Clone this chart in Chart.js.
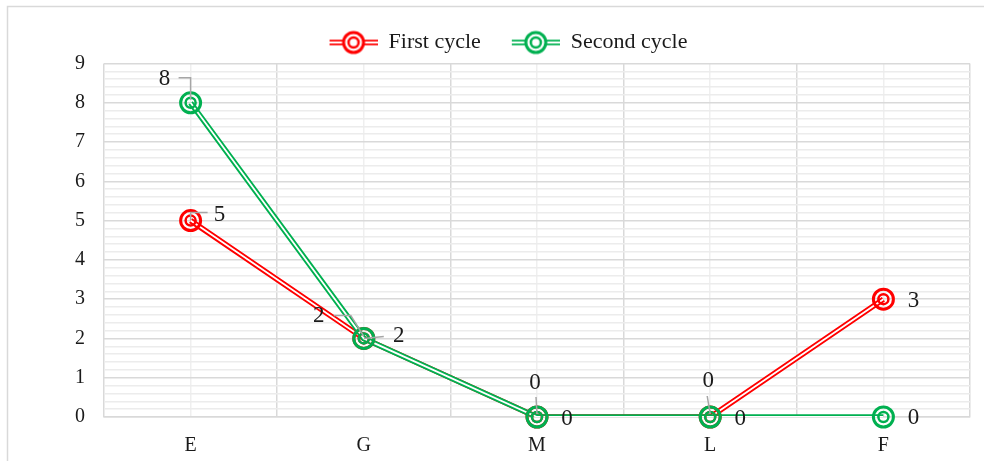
<!DOCTYPE html>
<html>
<head>
<meta charset="utf-8">
<script src="https://cdn.jsdelivr.net/npm/chart.js@4/dist/chart.umd.min.js"></script>
<style>
  html, body { margin: 0; padding: 0; background: #ffffff; }
  #wrap { position: relative; width: 984px; height: 461px; }
</style>
</head>
<body>
<div id="wrap"><canvas id="c" width="984" height="461"></canvas></div>
<script>
// ---- data ----
const categories = ['E', 'G', 'M', 'L', 'F'];
const firstCycle = [5, 2, 0, 0, 3];
const secondCycle = [8, 2, 0, 0, 0];
const seriesNames = ['First cycle', 'Second cycle'];
const yMin = 0;
const yMax = 9;

// ---- styles ----
const RED = '#FF0000';
const GREEN = '#00B050';
const SERIF = "'Liberation Serif', 'Times New Roman', serif";
const TEXT = '#1a1a1a';

// data-label placement (offsets relative to each point, style only)
const labelPlacement = [
  [ {dx: 29, dy: -6, leader: [[0, 0], [0, -8], [17, -8]]},
    {dx: -45, dy: -22, leader: [[-30, -23], [-13, -23], [0, -2]]},
    {dx: -2, dy: -34, leader: [[0, -3], [-1, -20]]},
    {dx: -2, dy: -36, leader: [[0, -3], [-3, -21]]},
    {dx: 30, dy: 2} ],
  [ {dx: -26, dy: -24, leader: [[0, -3], [0, -25], [-12, -25]]},
    {dx: 35, dy: -2, leader: [[0, 0], [20, -2]]},
    {dx: 30, dy: 2},
    {dx: 30, dy: 2},
    {dx: 30, dy: 1} ]
];

function drawMarker(ctx, x, y, color, fillWhite) {
  ctx.save();
  if (fillWhite) {
    ctx.fillStyle = '#ffffff';
    ctx.beginPath(); ctx.arc(x, y, 10.5, 0, Math.PI * 2); ctx.fill();
  }
  ctx.strokeStyle = color;
  ctx.lineWidth = 3;
  ctx.beginPath(); ctx.arc(x, y, 10, 0, Math.PI * 2); ctx.stroke();
  ctx.lineWidth = 2.5;
  ctx.beginPath(); ctx.arc(x, y, 5, 0, Math.PI * 2); ctx.stroke();
  ctx.restore();
}

function legendImage(color) {
  const cv = document.createElement('canvas');
  cv.width = 70; cv.height = 26;
  const ctx = cv.getContext('2d');
  ctx.strokeStyle = color; ctx.lineWidth = 5.5;
  ctx.beginPath(); ctx.moveTo(22, 13); ctx.lineTo(70, 13); ctx.stroke();
  ctx.strokeStyle = '#ffffff'; ctx.lineWidth = 1.8;
  ctx.beginPath(); ctx.moveTo(22, 13); ctx.lineTo(70, 13); ctx.stroke();
  drawMarker(ctx, 46, 13, color, true);
  return cv;
}

const framePlugin = {
  id: 'frame',
  beforeDraw(chart) {
    const ctx = chart.ctx;
    ctx.save();
    ctx.fillStyle = '#ffffff';
    ctx.fillRect(0, 0, chart.width, chart.height);
    ctx.strokeStyle = '#d9d9d9';
    ctx.lineWidth = 1.5;
    ctx.strokeRect(7.5, 6.5, 1100, 600);
    ctx.restore();
  }
};

const markerLabelPlugin = {
  id: 'markerLabels',
  afterDatasetsDraw(chart) {
    const ctx = chart.ctx;
    const series = [
      {ds: 0, color: RED, values: firstCycle},
      {ds: 2, color: GREEN, values: secondCycle}
    ];
    series.forEach(s => {
      const meta = chart.getDatasetMeta(s.ds);
      meta.data.forEach(pt => drawMarker(ctx, pt.x, pt.y, s.color, false));
    });
    series.forEach((s, si) => {
      const meta = chart.getDatasetMeta(s.ds);
      meta.data.forEach((pt, i) => {
        const p = labelPlacement[si][i];
        if (p.leader) {
          ctx.save();
          ctx.strokeStyle = '#a6a6a6';
          ctx.lineWidth = 1.5;
          ctx.beginPath();
          p.leader.forEach((o, k) => {
            if (k === 0) ctx.moveTo(pt.x + o[0], pt.y + o[1]);
            else ctx.lineTo(pt.x + o[0], pt.y + o[1]);
          });
          ctx.stroke();
          ctx.restore();
        }
        ctx.save();
        ctx.fillStyle = TEXT;
        ctx.font = "23px " + SERIF;
        ctx.textAlign = 'center';
        ctx.textBaseline = 'middle';
        ctx.fillText(String(s.values[i]), pt.x + p.dx, pt.y + p.dy);
        ctx.restore();
      });
    });
  }
};

function lineSet(label, data, color, width, order, img) {
  return {
    label: label,
    data: data,
    borderColor: color,
    backgroundColor: color,
    borderWidth: width,
    pointRadius: 0,
    pointHoverRadius: 0,
    pointStyle: img || 'circle',
    tension: 0,
    fill: false,
    order: order
  };
}

const redImg = legendImage(RED);
const greenImg = legendImage(GREEN);

new Chart(document.getElementById('c'), {
  type: 'line',
  data: {
    labels: categories,
    datasets: [
      lineSet(seriesNames[0], firstCycle, RED, 5.5, 4, redImg),
      lineSet('', firstCycle, '#ffffff', 1.8, 3),
      lineSet(seriesNames[1], secondCycle, GREEN, 5.5, 2, greenImg),
      lineSet('', secondCycle, '#ffffff', 1.8, 1)
    ]
  },
  options: {
    responsive: false,
    animation: false,
    events: [],
    layout: { padding: { left: 25, right: 14, top: 22.5, bottom: 0 } },
    plugins: {
      tooltip: { enabled: false },
      legend: {
        position: 'top',
        align: 'center',
        labels: {
          usePointStyle: true,
          pointStyleWidth: 70,
          padding: 9,
          color: TEXT,
          font: { family: SERIF, size: 22 },
          filter: item => item.text !== '',
          sort: (a, b) => a.datasetIndex - b.datasetIndex
        }
      }
    },
    scales: {
      x: {
        type: 'category',
        offset: true,
        grid: { offset: true, color: '#d9d9d9', lineWidth: 1.5, drawTicks: false },
        border: { display: true, color: '#d9d9d9', width: 1.5 },
        ticks: { color: TEXT, font: { family: SERIF, size: 20 }, padding: 17 },
        afterFit(scale) { scale.height = 44; }
      },
      x2: {
        type: 'category',
        labels: categories,
        position: 'bottom',
        offset: true,
        grid: { offset: false, color: '#efefef', lineWidth: 1.5, drawTicks: false },
        border: { display: false },
        ticks: { display: false },
        afterFit(scale) { scale.height = 0; }
      },
      y: {
        min: yMin,
        max: yMax,
        grid: {
          color: ctx => (Math.abs(ctx.tick.value - Math.round(ctx.tick.value)) < 1e-6 ? '#d9d9d9' : '#ececec'),
          lineWidth: 1.5,
          drawTicks: false
        },
        border: { display: false },
        ticks: {
          stepSize: 0.2,
          autoSkip: false,
          padding: 19,
          color: TEXT,
          font: { family: SERIF, size: 20 },
          callback: v => (Math.abs(v - Math.round(v)) < 1e-6 ? String(Math.round(v)) : '')
        },
        afterFit(scale) { scale.width = 79; }
      }
    }
  },
  plugins: [framePlugin, markerLabelPlugin]
});
</script>
</body>
</html>
